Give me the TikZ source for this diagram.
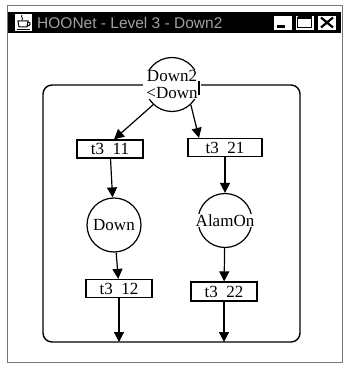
\documentclass[tikz,border=0pt]{standalone}
\usepackage{fontspec}
\setmainfont{Liberation Serif}
\newfontfamily\winfont{Liberation Sans}
\usepackage{tikz}
\usetikzlibrary{arrows.meta}
\definecolor{framegray}{RGB}{120,120,120}
\definecolor{titlegray}{RGB}{160,160,160}

\tikzset{
  place/.style={draw, circle, fill=white, minimum size=54pt, inner sep=0pt, line width=1.2pt},
  placetxt/.style={fill=white, inner xsep=3pt, inner ysep=1pt, align=center},
  trans/.style={draw, rectangle, fill=white, minimum width=66pt, minimum height=18pt, inner sep=0pt, line width=1.2pt},
  arc/.style={line width=1.2pt, -{Triangle[width=10pt,length=10pt]}},
  netfont/.style={font=\fontsize{17}{16.5}\selectfont},
  winbtn/.style={draw=black, fill=white, minimum width=19pt, minimum height=15pt, inner sep=0pt}
}

\begin{document}
\begin{tikzpicture}[x=1pt, y=-1pt, netfont]
    \useasboundingbox (0,0) rectangle (343,366);

    % Window frame and title bar
    \draw[framegray, line width=1pt] (7,6) rectangle (342,362);
    \fill[black] (8,12) rectangle (341,33);
    \node[titlegray, anchor=west, inner sep=0pt, font=\winfont\fontsize{15.5}{15}\selectfont] (title) at (37,23) {HOONet - Level 3 - Down2};

    % Cup icon
    \fill[white] (15,14) rectangle (32,31);
    \draw[line width=1pt] (18,21) -- (19,27) -- (27,27) -- (28,21) -- cycle;
    \draw[line width=1pt] (28,22) .. controls (31,22) and (31,26) .. (27,26);
    \draw[line width=1pt] (17,29.5) -- (30,29.5);
    \draw[line width=0.8pt] (22,15) .. controls (20,17) and (24,18) .. (22,20);

    % Window buttons
    \node[winbtn] (minbtn) at (283,22.5) {};
    \node[winbtn] (maxbtn) at (304.5,22.5) {};
    \node[winbtn] (closebtn) at (327,22.5) {};
    \fill ([shift={(-6,3)}]minbtn.center) rectangle ([shift={(2,5.5)}]minbtn.center);
    \draw[line width=1.3pt] ([shift={(-7,-5)}]maxbtn.center) rectangle ([shift={(7,5)}]maxbtn.center);
    \draw[line width=2.5pt] ([shift={(-7,-5)}]maxbtn.center) -- ([shift={(7,-5)}]maxbtn.center);
    \draw[line width=2.2pt] ([shift={(-6,-5)}]closebtn.center) -- ([shift={(6,5)}]closebtn.center);
    \draw[line width=2.2pt] ([shift={(6,-5)}]closebtn.center) -- ([shift={(-6,5)}]closebtn.center);

    % Page border of the subnet
    \node[draw, rounded corners=9pt, line width=1.4pt, minimum width=257pt, minimum height=257pt, outer sep=0pt] (frame) at (171.5,213.5) {};

    % Places
    \node[place] (down2) at (172,84.5) {};
    \node[placetxt] (down2txt) at (down2) {Down2\\<Down};
    \draw[line width=1.2pt] (199,81) -- (199,95);
    \node[place] (down) at (114,225) {};
    \node[placetxt] (downtxt) at (down) {Down};
    \node[place] (alamon) at (225,220.5) {};
    \node[placetxt, inner xsep=1pt] (alamontxt) at (alamon) {AlamOn};

    % Transitions
    \node[trans] (t311) at (110,149) {t3\enspace11};
    \node[trans, minimum width=74pt] (t321) at (225,147.5) {t3\enspace21};
    \node[trans] (t312) at (119,288.5) {t3\enspace12};
    \node[trans, minimum height=19pt] (t322) at (224,291.5) {t3\enspace22};

    % Arcs
    \draw[arc] (down2.-133) -- ([xshift=4pt]t311.north);
    \draw[arc] (down2.-47) -- ([xshift=-26pt]t321.north);
    \draw[arc] (t311) -- (down);
    \draw[arc] (t321) -- (alamon);
    \draw[arc] (down) -- (t312);
    \draw[arc] (alamon) -- (t322);
    \coordinate (sink1) at (t312 |- frame.south);
    \coordinate (sink2) at (t322 |- frame.south);
    \draw[arc] (t312) -- (sink1);
    \draw[arc] (t322) -- (sink2);
\end{tikzpicture}
\end{document}
